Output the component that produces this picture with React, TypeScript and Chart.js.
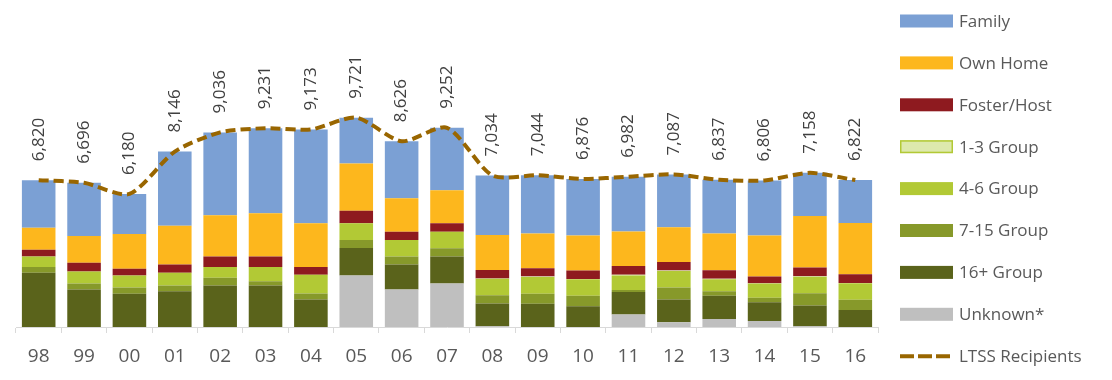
import React, { useEffect, useRef } from "react";
import { Chart, registerables } from "chart.js";

Chart.register(...registerables);

const categories = ["98", "99", "00", "01", "02", "03", "04", "05", "06", "07", "08", "09", "10", "11", "12", "13", "14", "15", "16"];
const ltssRecipients = [6820, 6696, 6180, 8146, 9036, 9231, 9173, 9721, 8626, 9252, 7034, 7044, 6876, 6982, 7087, 6837, 6806, 7158, 6822];
const unknown = [0, 0, 0, 0, 0, 0, 0, 2397, 1738, 2015, 30, 0, 0, 585, 217, 369, 277, 30, 0];
const group16plus = [2522, 1738, 1540, 1660, 1922, 1922, 1277, 1277, 1166, 1259, 1060, 1079, 968, 1046, 1060, 1079, 876, 968, 784];
const group7to15 = [263, 277, 290, 263, 369, 198, 277, 369, 369, 387, 387, 461, 479, 92, 553, 212, 203, 572, 479];
const group4to6 = [489, 567, 567, 599, 493, 664, 876, 770, 770, 765, 765, 784, 765, 673, 770, 553, 659, 765, 765];
const group1to3 = [0, 0, 0, 0, 0, 0, 0, 0, 0, 0, 15, 20, 20, 25, 20, 25, 20, 25, 20];
const fosterHost = [309, 401, 309, 383, 489, 489, 355, 581, 383, 387, 387, 383, 387, 415, 396, 401, 309, 401, 401];
const ownHome = [1028, 1245, 1614, 1798, 1922, 2015, 2028, 2199, 1554, 1535, 1627, 1614, 1627, 1600, 1614, 1706, 1904, 2397, 2383];
const family = [2209, 2468, 1860, 3443, 3841, 3943, 4360, 2128, 2646, 2904, 2763, 2703, 2630, 2546, 2457, 2492, 2558, 2000, 1990];

const LEGEND_X = 900;
const LEGEND_TOP = 21;
const LEGEND_STEP = 41.9;
const LEGEND_BOX_W = 53;
const LEGEND_BOX_H = 13;

const sideLegend = {
  id: "sideLegend",
  afterDraw(chart: any) {
    const ctx = chart.ctx as CanvasRenderingContext2D;
    const dsets = chart.data.datasets.slice().reverse();
    ctx.save();
    ctx.font = '17px "Open Sans"';
    ctx.textBaseline = "middle";
    ctx.textAlign = "left";
    dsets.forEach((ds: any, i: number) => {
      const y = LEGEND_TOP + i * LEGEND_STEP;
      if (ds.type === "line") {
        ctx.save();
        ctx.strokeStyle = ds.borderColor;
        ctx.lineWidth = 4;
        ctx.setLineDash([14, 4]);
        ctx.beginPath();
        ctx.moveTo(LEGEND_X, y);
        ctx.lineTo(LEGEND_X + LEGEND_BOX_W, y);
        ctx.stroke();
        ctx.restore();
      } else {
        ctx.fillStyle = ds.backgroundColor;
        ctx.fillRect(LEGEND_X, y - LEGEND_BOX_H / 2, LEGEND_BOX_W, LEGEND_BOX_H);
        if (ds.legendBorder) {
          ctx.strokeStyle = ds.legendBorder;
          ctx.lineWidth = 1.5;
          ctx.strokeRect(LEGEND_X + 0.75, y - LEGEND_BOX_H / 2 + 0.75, LEGEND_BOX_W - 1.5, LEGEND_BOX_H - 1.5);
        }
      }
      ctx.fillStyle = "#595959";
      ctx.fillText(ds.label, LEGEND_X + LEGEND_BOX_W + 6, y + 1);
    });
    ctx.restore();
  },
};

const pointLabels = {
  id: "pointLabels",
  afterDatasetsDraw(chart: any) {
    const ctx = chart.ctx as CanvasRenderingContext2D;
    const idx = chart.data.datasets.findIndex((d: any) => d.type === "line");
    const meta = chart.getDatasetMeta(idx);
    const vals = chart.data.datasets[idx].data as number[];
    ctx.save();
    ctx.font = '17px "Open Sans"';
    ctx.fillStyle = "#404040";
    ctx.textAlign = "left";
    ctx.textBaseline = "middle";
    meta.data.forEach((pt: any, i: number) => {
      ctx.save();
      ctx.translate(pt.x, pt.y - 19);
      ctx.rotate(-Math.PI / 2);
      ctx.fillText(vals[i].toLocaleString("en-US"), 0, 0);
      ctx.restore();
    });
    ctx.restore();
  },
};

export default function App() {
  const ref = useRef<HTMLCanvasElement>(null);
  useEffect(() => {
    if (!ref.current) return;
    const bar = (label: string, data: number[], color: string, extra: any = {}) => ({
      type: "bar" as const,
      label,
      data,
      backgroundColor: color,
      borderWidth: 0,
      stack: "s",
      order: 1,
      barPercentage: 0.74,
      categoryPercentage: 1,
      ...extra,
    });
    const chart = new Chart(ref.current, {
      type: "bar",
      data: {
        labels: categories,
        datasets: [
          {
            type: "line" as const,
            label: "LTSS Recipients",
            data: ltssRecipients,
            borderColor: "#996600",
            backgroundColor: "#996600",
            borderWidth: 4,
            borderDash: [10, 5],
            pointRadius: 0,
            tension: 0.25,
            fill: false,
            stack: "line",
            order: 0,
          } as any,
          bar("Unknown*", unknown, "#bfbfbf"),
          bar("16+ Group", group16plus, "#5a631b"),
          bar("7-15 Group", group7to15, "#87992a"),
          bar("4-6 Group", group4to6, "#b2c935"),
          bar("1-3 Group", group1to3, "#dde9ad", { legendBorder: "#b2c935" }),
          bar("Foster/Host", fosterHost, "#8e1a1f"),
          bar("Own Home", ownHome, "#fdb71d"),
          bar("Family", family, "#7ba0d4"),
        ],
      },
      options: {
        responsive: false,
        animation: false,
        layout: { padding: { left: 16, right: 234, top: 4, bottom: 0 } },
        plugins: { legend: { display: false }, tooltip: { enabled: false } },
        scales: {
          x: {
            stacked: true,
            grid: { display: true, drawOnChartArea: false, drawTicks: true, tickLength: 6, color: "#d9d9d9", offset: true },
            border: { display: true, color: "#d9d9d9", width: 1 },
            ticks: { font: { family: "Open Sans", size: 19, lineHeight: 1.0 }, color: "#595959", padding: 14, maxRotation: 0, autoSkip: false },
          },
          y: { display: false, stacked: true, min: 0, max: 15000 },
        },
      },
      plugins: [pointLabels, sideLegend],
    });
    return () => chart.destroy();
  }, []);
  return (
    <div style={{ position: "absolute", left: 0, top: 0, width: 1112, height: 380, background: "#fff" }}>
      <canvas ref={ref} width={1112} height={380} style={{ display: "block" }} />
    </div>
  );
}
